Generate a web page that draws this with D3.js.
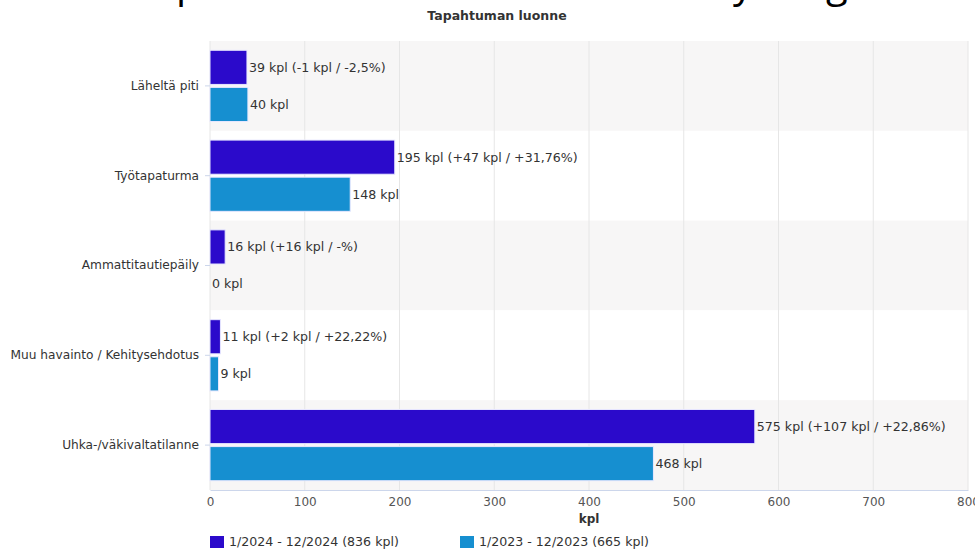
<!DOCTYPE html>
<html><head><meta charset="utf-8">
<script src="https://cdn.jsdelivr.net/npm/d3@7"></script>
<style>
html,body{margin:0;padding:0;background:#fff;}
svg{display:block;font-family:"DejaVu Sans",Verdana,sans-serif;}
</style></head>
<body>
<svg id="chart" width="975" height="549"></svg>
<script>
const categories = ["Läheltä piti","Työtapaturma","Ammattitautiepäily","Muu havainto / Kehitysehdotus","Uhka-/väkivaltatilanne"];
const values2024 = [39,195,16,11,575];
const values2023 = [40,148,0,9,468];
const labels2024 = ["39 kpl (-1 kpl / -2,5%)","195 kpl (+47 kpl / +31,76%)","16 kpl (+16 kpl / -%)","11 kpl (+2 kpl / +22,22%)","575 kpl (+107 kpl / +22,86%)"];
const labels2023 = ["40 kpl","148 kpl","0 kpl","9 kpl","468 kpl"];
const seriesNames = ["1/2024 - 12/2024 (836 kpl)","1/2023 - 12/2023 (665 kpl)"];
const xTicks = [0,100,200,300,400,500,600,700,800];
const colors = ["#2b0acb","#168fd0"];

const svg = d3.select("#chart");
const mLeft = 210, mRight = 968, mTop = 41, mBottom = 490;

const x = d3.scaleLinear().domain([0,800]).range([mLeft,mRight]);
const y = d3.scaleBand().domain(categories).range([mTop,mBottom]);
const inner = d3.scaleBand().domain([0,1]).range([0,y.bandwidth()]).paddingInner(0.08).paddingOuter(0.25);

// cut-off heading at the very top (only descenders visible)
svg.append("text").attr("y",-3).attr("font-size",40).attr("fill","#000")
  .attr("font-family","'Open Sans',sans-serif")
  .selectAll("tspan").data([["p",176],["y",733],["g",826]]).join("tspan")
  .attr("x",d=>d[1]).text(d=>d[0]);

// title
svg.append("text").attr("x",497).attr("y",20).attr("text-anchor","middle")
  .attr("font-size",12.5).attr("font-weight","bold").attr("fill","#333").text("Tapahtuman luonne");

// alternating bands
svg.append("g").selectAll("rect").data(categories).join("rect")
  .attr("x",mLeft).attr("y",d=>y(d)).attr("width",mRight-mLeft).attr("height",y.bandwidth())
  .attr("fill",(d,i)=>i%2===0?"#f7f6f6":"#ffffff");

// grid
svg.append("g").selectAll("line").data(xTicks).join("line")
  .attr("x1",d=>x(d)).attr("x2",d=>x(d)).attr("y1",mTop).attr("y2",mBottom)
  .attr("stroke","#e6e6e6").attr("stroke-width",1);

// bars
const series = [values2024, values2023];
const seriesLabels = [labels2024, labels2023];
series.forEach((vals,si)=>{
  const g = svg.append("g");
  g.selectAll("rect").data(categories).join("rect")
    .attr("x",x(0)).attr("y",(d,i)=>y(d)+inner(si))
    .attr("width",(d,i)=>x(vals[i])-x(0)).attr("height",inner.bandwidth())
    .attr("fill",colors[si]).attr("stroke","#e8e8ff").attr("stroke-width",1);
  g.selectAll("text").data(categories).join("text")
    .attr("x",(d,i)=>x(vals[i])+2).attr("y",(d,i)=>y(d)+inner(si)+inner.bandwidth()/2)
    .attr("dy","0.35em").attr("font-size",12.6).attr("fill","#333")
    .text((d,i)=>seriesLabels[si][i]);
});

// category axis
const yAxis = svg.append("g").attr("transform",`translate(${mLeft},0)`)
  .call(d3.axisLeft(y).tickSize(5).tickPadding(6));
yAxis.select(".domain").remove();
yAxis.selectAll(".tick line").attr("stroke","#ccd6eb");
yAxis.selectAll(".tick text").attr("font-size",12.2).attr("fill","#333").attr("font-family","'DejaVu Sans',Verdana,sans-serif");

// x axis
const xAxis = svg.append("g").attr("transform",`translate(0,${mBottom})`)
  .call(d3.axisBottom(x).tickValues(xTicks).tickSize(0).tickPadding(7).tickFormat(d3.format("d")));
xAxis.select(".domain").attr("stroke","#ccd6eb");
xAxis.selectAll(".tick text").attr("font-size",12).attr("fill","#555").attr("font-family","'DejaVu Sans',Verdana,sans-serif");

svg.append("text").attr("x",(mLeft+mRight)/2).attr("y",523).attr("text-anchor","middle")
  .attr("font-size",12).attr("font-weight","bold").attr("fill","#333").text("kpl");

// legend
const legend = svg.append("g").selectAll("g").data(seriesNames).join("g")
  .attr("transform",(d,i)=>`translate(${i===0?210:460},536)`);
legend.append("rect").attr("width",14).attr("height",12).attr("fill",(d,i)=>colors[i]);
legend.append("text").attr("x",19).attr("y",6).attr("dy","0.35em").attr("font-size",12.6).attr("fill","#333").text(d=>d);
</script>
</body></html>
